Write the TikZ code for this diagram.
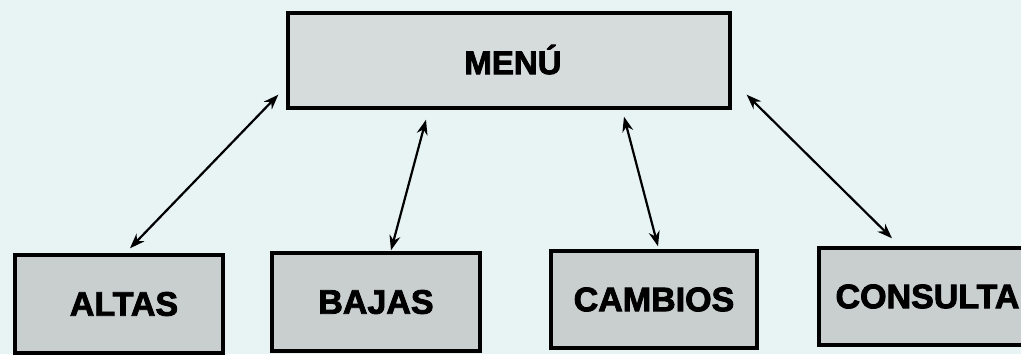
\documentclass[tikz,border=0pt]{standalone}
\usepackage{fontspec}
\setmainfont{Liberation Sans}
\newfontfamily\heavy{Liberation Sans}[FakeBold=2.5]
\usetikzlibrary{arrows.meta,calc}
\definecolor{paper}{HTML}{E8F4F4}
\definecolor{boxfillA}{HTML}{D6DCDC}
\definecolor{boxfillB}{HTML}{C9CFCF}
\tikzset{
  box/.style={draw=black, line width=3.4pt, inner sep=0pt, font=\heavy\bfseries\fontsize{34}{38}\selectfont},
  topbox/.style={box, fill=boxfillA, minimum width=442pt, minimum height=95pt, font=\heavy\bfseries\fontsize{33}{37}\selectfont},
  lowbox/.style={box, fill=boxfillB, minimum height=97pt},
  conn/.style={line width=2.2pt, {Stealth[length=15pt,width=11pt]}-{Stealth[length=15pt,width=11pt]}}
}
\begin{document}
\begin{tikzpicture}[x=1pt,y=-1pt]
  \fill[paper] (0,0) rectangle (1021,354);
  \useasboundingbox (0,0) rectangle (1021,354);
  \node[topbox] (menu) at (509,60.5) {\hspace*{8pt}\raisebox{2pt}{MENÚ}};
  \node[lowbox, minimum width=208pt, minimum height=98pt] (altas) at (119,304) {\hspace*{10pt}\raisebox{-2pt}{ALTAS}};
  \node[lowbox, minimum width=208pt, minimum height=98pt] (bajas) at (376,302) {BAJAS};
  \node[lowbox, minimum width=206pt] (cambios) at (654,299.5) {CAMBIOS};
  \node[lowbox, minimum width=211pt] (consulta) at (924.5,296.5) {\hspace*{6pt}CONSULTA};
  \draw[conn] ($(altas.north)+(11,-5)$) -- ($(menu.south west)+(-8,-15)$);
  \draw[conn] ($(bajas.north)+(15,-1)$) -- ($(menu.south)+(-83,10)$);
  \draw[conn] ($(cambios.north)+(4,-3)$) -- ($(menu.south)+(115,7)$);
  \draw[conn] ($(consulta.north)+(-32.5,-8)$) -- ($(menu.south east)+(15,-15)$);
\end{tikzpicture}
\end{document}
